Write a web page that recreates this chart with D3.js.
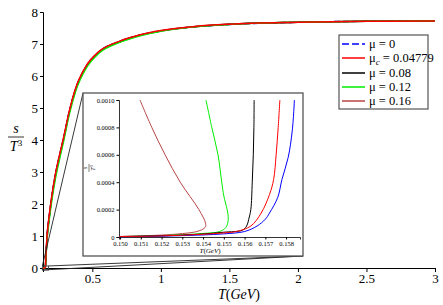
<html>
<head>
<script src="https://d3js.org/d3.v7.min.js"></script>
<style>
  body { margin: 0; background: #fff; }
  svg { display: block; }
</style>
</head>
<body>
<svg width="443" height="305"></svg>
<script>
// main plot data: T (GeV) and s/T^3 for each mu
var mainT     = [0.14, 0.15, 0.157, 0.162, 0.17, 0.185, 0.2, 0.23, 0.26, 0.29, 0.33, 0.38, 0.45, 0.55, 0.7, 0.85, 1.0, 1.25, 1.5, 2.0, 2.5, 3.0];
var mainMu0   = [0, 0, 0.01, 0.42, 1.0, 1.6, 2.1, 2.9, 3.5, 4.05, 4.85, 5.62, 6.26, 6.76, 7.08, 7.28, 7.41, 7.54, 7.61, 7.68, 7.71, 7.72];
var mainMuC   = [0, 0, 0.02, 0.45, 1.02, 1.62, 2.12, 2.92, 3.52, 4.07, 4.87, 5.64, 6.28, 6.77, 7.09, 7.29, 7.42, 7.55, 7.62, 7.68, 7.71, 7.72];
var mainMu008 = [0, 0, 0.02, 0.42, 0.98, 1.57, 2.07, 2.87, 3.47, 4.02, 4.83, 5.6, 6.25, 6.75, 7.07, 7.28, 7.41, 7.54, 7.62, 7.68, 7.71, 7.72];
var mainMu012 = [0, 0.001, 0.03, 0.36, 0.9, 1.48, 1.98, 2.78, 3.39, 3.95, 4.77, 5.55, 6.21, 6.72, 7.05, 7.26, 7.4, 7.54, 7.61, 7.68, 7.71, 7.72];
var mainMu016 = [0, 0.002, 0.06, 0.44, 1.0, 1.6, 2.1, 2.9, 3.5, 4.05, 4.85, 5.62, 6.27, 6.76, 7.08, 7.28, 7.41, 7.55, 7.62, 7.68, 7.71, 7.72];

// inset data (zoom near the transition): [T, s/T^3]
var insetMu0 = [[0.14995,0.000002],[0.151,0.000004],[0.152,0.000006],[0.153,0.00001],[0.154,0.000015],[0.155,0.000023],[0.156,0.00004],[0.1566,0.00008],[0.157,0.00013],[0.1572,0.000175],[0.1576,0.00029],[0.1578,0.00042],[0.1581,0.00058],[0.1583,0.00078],[0.1584,0.001]];
var insetMuC = [[0.14995,0.000003],[0.151,0.000005],[0.152,0.000008],[0.153,0.000013],[0.154,0.00002],[0.155,0.00003],[0.1556,0.00004],[0.1563,0.00008],[0.1568,0.000175],[0.1572,0.00031],[0.1574,0.00042],[0.15752,0.0006],[0.15762,0.0008],[0.1577,0.001]];
var insetMu008 = [[0.14995,0.000003],[0.151,0.000006],[0.152,0.000009],[0.153,0.000014],[0.154,0.000022],[0.155,0.000035],[0.1559,0.00005],[0.1561,0.00008],[0.1562,0.00013],[0.1563,0.0002],[0.15637,0.0004],[0.15642,0.0006],[0.15645,0.0008],[0.15646,0.001]];
var insetMu012 = [[0.14995,0.000003],[0.151,0.000006],[0.152,0.00001],[0.153,0.000016],[0.154,0.000026],[0.1548,0.00004],[0.1551,0.00007],[0.1552,0.00011],[0.15521,0.00015],[0.15516,0.0002],[0.155,0.0003],[0.1549,0.0004],[0.15472,0.0006],[0.15442,0.0008],[0.15414,0.001]];
var insetMu016 = [[0.14995,0.000004],[0.151,0.000008],[0.152,0.000014],[0.153,0.000025],[0.1537,0.00004],[0.1541,0.00007],[0.15412,0.0001],[0.1538,0.0002],[0.1529,0.0004],[0.15217,0.0006],[0.15153,0.0008],[0.15096,0.001]];

var seriesNames = ["mu0", "muc", "mu008", "mu012", "mu016"];
var seriesColors = ["#0000ff", "#ff0000", "#000000", "#00ee00", "#b84545"];
var legendLabels = [["μ", "", " = 0"], ["μ", "c", " = 0.04779"], ["μ", "", " = 0.08"], ["μ", "", " = 0.12"], ["μ", "", " = 0.16"]];

var mainX = [0.5, 1, 1.5, 2, 2.5, 3];
var mainY = [0, 1, 2, 3, 4, 5, 6, 7, 8];
var insetXTicks = [0.150, 0.151, 0.152, 0.153, 0.154, 0.155, 0.156, 0.157, 0.158];
var insetYTicks = [0, 0.0002, 0.0004, 0.0006, 0.0008, 0.0010];

var serif = "'Liberation Serif', 'DejaVu Serif', 'Times New Roman', serif";
var svg = d3.select("svg");

// main scales
var x = d3.scaleLinear().domain([0.14, 3]).range([43, 435]);
var y = d3.scaleLinear().domain([0, 8]).range([268, 12]);

// minor + major ticks
var gx = svg.append("g").attr("transform", "translate(0," + y(0) + ")");
gx.call(d3.axisBottom(x).tickValues(d3.range(2, 31).map(function(d){ return d / 10; })).tickSize(2).tickFormat(""));
gx.call(d3.axisBottom(x).tickValues(mainX).tickSize(4).tickPadding(2).tickFormat(d3.format("")));
gx.selectAll("text").style("font-size", "13px").attr("fill", "#000");

var gy = svg.append("g").attr("transform", "translate(" + x(0.14) + ",0)");
gy.call(d3.axisLeft(y).tickValues(d3.range(1, 16, 2).map(function(d){ return d / 2; })).tickSize(2).tickFormat(""));
gy.call(d3.axisLeft(y).tickValues(mainY).tickSize(3).tickPadding(2).tickFormat(d3.format("d")));
gy.selectAll("text").style("font-size", "13px").attr("fill", "#000");
svg.selectAll(".domain").attr("stroke", "#000");

// axis titles
var xt = svg.append("text").attr("x", 239).attr("y", 299).attr("text-anchor", "middle").style("font-size", "14px");
xt.append("tspan").style("font-style", "italic").text("T");
xt.append("tspan").text("(");
xt.append("tspan").style("font-style", "italic").text("GeV");
xt.append("tspan").text(")");

svg.append("text").attr("x", 16).attr("y", 133).attr("text-anchor", "middle")
  .style("font-size", "14px").style("font-style", "italic").text("s");
svg.append("line").attr("x1", 8).attr("x2", 24).attr("y1", 137).attr("y2", 137).attr("stroke", "#000").attr("stroke-width", 0.8);
var yt = svg.append("text").attr("x", 16).attr("y", 151).attr("text-anchor", "middle").style("font-size", "14px");
yt.append("tspan").style("font-style", "italic").text("T");
yt.append("tspan").attr("dy", -5).style("font-size", "9px").text("3");

// main curves
var mainSeries = [mainMu0, mainMuC, mainMu008, mainMu012, mainMu016];
var mainLine = d3.line().x(function(d){ return x(d[0]); }).y(function(d){ return y(d[1]); }).curve(d3.curveMonotoneX);
var drawOrder = [0, 4, 2, 3, 1];
drawOrder.forEach(function(i) {
  svg.append("path")
    .datum(mainT.map(function(t, k){ return [t, mainSeries[i][k]]; }))
    .attr("d", mainLine)
    .attr("fill", "none")
    .attr("stroke", seriesColors[i])
    .attr("stroke-width", 1.5)
    .attr("stroke-dasharray", i == 0 ? "6,3" : null);
});

// inset scales
var ix = d3.scaleLinear().domain([0.14995, 0.15867]).range([119, 300]);
var iy = d3.scaleLinear().domain([0, 0.001]).range([237, 100]);
var frame = {x0: 83, y0: 93, x1: 303, y1: 256};

// zoom box near the origin and connector lines
var bx0 = x(0.14995) - 2, bx1 = x(0.15867) + 3, by0 = y(0.001) - 2, by1 = y(0) + 2;
var conn = svg.append("g").attr("stroke", "#222").attr("stroke-width", 0.9).attr("fill", "none");
conn.append("rect").attr("x", bx0).attr("y", by0).attr("width", bx1 - bx0).attr("height", by1 - by0).attr("stroke", "#444");
conn.append("line").attr("x1", bx0).attr("y1", by0).attr("x2", frame.x0).attr("y2", frame.y0);
conn.append("line").attr("x1", bx0).attr("y1", by1).attr("x2", frame.x1).attr("y2", frame.y1);
conn.append("line").attr("x1", bx1).attr("y1", by0).attr("x2", frame.x1).attr("y2", frame.y1);

var inset = svg.append("g");
inset.append("rect").attr("x", frame.x0).attr("y", frame.y0)
  .attr("width", frame.x1 - frame.x0).attr("height", frame.y1 - frame.y0)
  .attr("fill", "#fff").attr("stroke", "#555").attr("stroke-width", 1.3);

svg.append("clipPath").attr("id", "ic").append("rect")
  .attr("x", 119).attr("y", 99).attr("width", 182).attr("height", 139);

var igx = inset.append("g").attr("transform", "translate(0," + iy(0) + ")");
igx.call(d3.axisBottom(ix).tickValues(d3.range(1500, 1587, 5).map(function(d){ return d / 10000; })).tickSize(1.5).tickFormat(""));
igx.call(d3.axisBottom(ix).tickValues(insetXTicks).tickSize(2.5).tickPadding(2).tickFormat(d3.format(".3f")));
igx.selectAll("text").style("font-size", "6.5px").attr("fill", "#000");

var igy = inset.append("g").attr("transform", "translate(" + ix(0.14995) + ",0)");
igy.call(d3.axisLeft(iy).tickValues(insetYTicks).tickSize(2.5).tickPadding(2)
  .tickFormat(function(d){ return d == 0 ? "0" : d3.format(".4f")(d); }));
igy.selectAll("text").style("font-size", "6.5px").attr("fill", "#000");
inset.selectAll(".domain").attr("stroke", "#000").attr("stroke-width", 0.8);

var ixt = inset.append("text").attr("x", 210).attr("y", 253).attr("text-anchor", "middle").style("font-size", "7px");
ixt.append("tspan").style("font-style", "italic").text("T");
ixt.append("tspan").text("(");
ixt.append("tspan").style("font-style", "italic").text("GeV");
ixt.append("tspan").text(")");

var iyl = inset.append("g").attr("transform", "translate(89,168) rotate(-90)");
iyl.append("text").attr("x", 0).attr("y", -2).attr("text-anchor", "middle").style("font-size", "6px").style("font-style", "italic").text("s");
iyl.append("line").attr("x1", -4).attr("x2", 4).attr("y1", 0).attr("y2", 0).attr("stroke", "#000").attr("stroke-width", 0.5);
var iyt = iyl.append("text").attr("x", 0).attr("y", 6).attr("text-anchor", "middle").style("font-size", "6px");
iyt.append("tspan").style("font-style", "italic").text("T");
iyt.append("tspan").attr("dy", -2).style("font-size", "4px").text("3");

var insetSeries = [insetMu0, insetMuC, insetMu008, insetMu012, insetMu016];
var insetLine = d3.line().x(function(d){ return ix(d[0]); }).y(function(d){ return iy(d[1]); }).curve(d3.curveCatmullRom.alpha(0.5));
var ic = inset.append("g").attr("clip-path", "url(#ic)");
[4, 3, 2, 0, 1].forEach(function(i) {
  ic.append("path").datum(insetSeries[i]).attr("d", insetLine)
    .attr("fill", "none").attr("stroke", seriesColors[i]).attr("stroke-width", 1);
});

// legend
var legend = svg.append("g");
legend.append("rect").attr("x", 339).attr("y", 35).attr("width", 89).attr("height", 74)
  .attr("fill", "#fff").attr("stroke", "#555").attr("stroke-width", 1.2);
var legY = [44, 58, 73, 87, 101];
seriesNames.forEach(function(name, i) {
  legend.append("line").attr("x1", 342).attr("x2", 365).attr("y1", legY[i]).attr("y2", legY[i])
    .attr("stroke", seriesColors[i]).attr("stroke-width", 1.5)
    .attr("stroke-dasharray", i == 0 ? "7,3" : null);
  var t = legend.append("text").attr("x", 369).attr("y", legY[i] + 4).style("font-size", "12.5px");
  t.append("tspan").text(legendLabels[i][0]);
  if (legendLabels[i][1]) {
    t.append("tspan").attr("dy", 3).style("font-size", "9px").style("font-style", "italic").text(legendLabels[i][1]);
    t.append("tspan").attr("dy", -3).text(legendLabels[i][2]);
  } else {
    t.append("tspan").text(legendLabels[i][2]);
  }
});

// serif everywhere, like the original
svg.selectAll("g").attr("font-family", null);
svg.selectAll("text").style("font-family", serif);
</script>
</body>
</html>
